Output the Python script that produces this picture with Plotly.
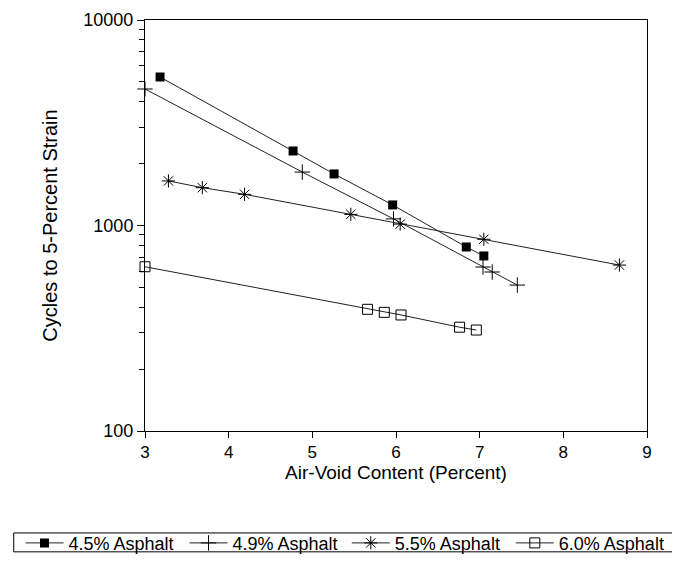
import plotly.graph_objects as go

# ---- data ----
x_45 = [3.18, 4.77, 5.26, 5.96, 6.84, 7.05]
y_45 = [5280, 2305, 1782, 1259, 786, 711]

x_49 = [3.00, 4.88, 5.97, 7.04, 7.15, 7.45]
y_49 = [4616, 1820, 1077, 628, 594, 513]

x_55 = [3.28, 3.685, 4.19, 5.46, 6.05, 7.05, 8.67]
y_55 = [1648, 1528, 1418, 1133, 1016, 857, 642]

x_60 = [3.00, 5.66, 5.86, 6.06, 6.76, 6.96]
y_60 = [630, 391, 378, 367, 320, 310]

series_names = ["4.5% Asphalt", "4.9% Asphalt", "5.5% Asphalt", "6.0% Asphalt"]

x_ticks = [3, 4, 5, 6, 7, 8, 9]
y_ticks = [100, 1000, 10000]
y_tick_text = ["100", "1000", "10000"]
y_minor = [m * d for d in (100, 1000) for m in range(2, 10)]

FONT = "Liberation Sans, Arial, sans-serif"
LINE = "#222222"

fig = go.Figure()

styles = [
    (x_45, y_45, dict(symbol="square", size=9, color="black"), "legend"),
    (x_49, y_49, dict(symbol="cross-thin-open", size=11, color="black", line=dict(width=1, color="black")), "legend"),
    (x_55, y_55, dict(symbol="asterisk-open", size=11, color="black", line=dict(width=1, color="black")), "legend2"),
    (x_60, y_60, dict(symbol="square-open", size=10, color="black", line=dict(width=1, color="black")), "legend2"),
]
for (xs, ys, mk, lg), name in zip(styles, series_names):
    fig.add_trace(go.Scatter(
        x=xs, y=ys, name=name, mode="lines+markers",
        line=dict(color=LINE, width=1),
        marker=mk, cliponaxis=False, legend=lg,
    ))

legend_common = dict(
    orientation="h", yanchor="middle", y=-0.273, xanchor="left",
    borderwidth=0, bgcolor="rgba(0,0,0,0)",
    font=dict(size=18), entrywidth=111, entrywidthmode="pixels",
    itemwidth=38, itemsizing="trace", tracegroupgap=0,
)

fig.update_layout(
    width=680, height=569,
    margin=dict(l=135, r=41, t=12, b=146),
    paper_bgcolor="white", plot_bgcolor="white",
    font=dict(family=FONT, size=17, color="black"),
    showlegend=True,
    legend=dict(x=-0.248, **legend_common),
    legend2=dict(x=0.402, **legend_common),
    shapes=[dict(
        type="rect", xref="paper", yref="paper",
        x0=-0.2615, x1=1.09, y0=-0.248, y1=-0.294,
        line=dict(color="black", width=1), fillcolor="rgba(0,0,0,0)",
        layer="below",
    )],
    xaxis=dict(
        range=[3, 9], tickvals=x_ticks, ticks="outside", ticklen=6,
        tickcolor="black", showline=True, linecolor="black", linewidth=1,
        mirror=True, showgrid=False, zeroline=False, automargin=False,
        tickfont=dict(size=17),
        title=dict(text="Air-Void Content (Percent)", standoff=0, font=dict(size=19)),
    ),
    yaxis=dict(
        type="log", range=[2, 4], tickvals=y_ticks, ticktext=y_tick_text,
        ticks="outside", ticklen=7, tickcolor="black",
        minor=dict(tickvals=y_minor, ticks="outside", ticklen=5, tickcolor="black"),
        showline=True, linecolor="black", linewidth=1, mirror=True,
        showgrid=False, zeroline=False, automargin=False,
        tickfont=dict(size=18),
        title=dict(text="Cycles to 5-Percent Strain", standoff=20, font=dict(size=20)),
    ),
)

fig.write_html("out.html")
